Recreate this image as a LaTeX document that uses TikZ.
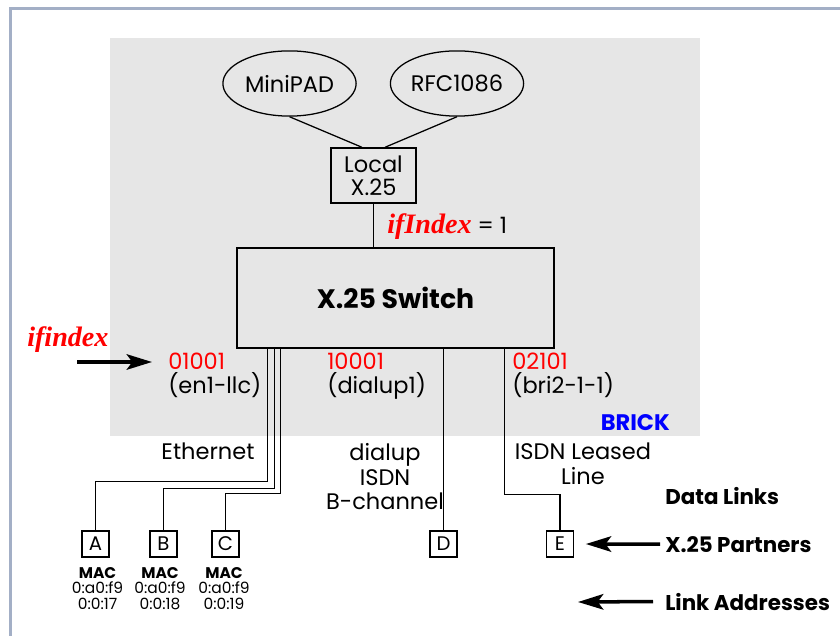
\documentclass[tikz,border=0pt]{standalone}
\usepackage{fontspec}
\setmainfont{Poppins}
\newfontfamily\serifbi{Liberation Serif}
\usetikzlibrary{shapes.geometric, arrows.meta, positioning, calc}
\usepackage{xcolor}
\definecolor{framegray}{RGB}{163, 175, 198}
\definecolor{brickgray}{RGB}{230, 230, 230}
\definecolor{idxred}{RGB}{255, 0, 0}
\definecolor{brickblue}{RGB}{0, 0, 255}

\begin{document}
\begin{tikzpicture}[
    x=0.025cm, y=-0.025cm,
    ellp/.style={ellipse, draw, line width=0.9pt, minimum width=3.33cm, minimum height=1.63cm, inner sep=0pt, font=\fontsize{16}{17}\selectfont},
    boxn/.style={rectangle, draw, line width=0.9pt, minimum width=2.13cm, minimum height=1.38cm, inner sep=0pt, align=center, font=\fontsize{16}{16.5}\selectfont},
    swt/.style={rectangle, draw, line width=1pt, minimum width=7.93cm, minimum height=2.5cm, font=\bfseries\fontsize{19}{20}\selectfont},
    partn/.style={rectangle, draw, line width=0.9pt, minimum width=0.68cm, minimum height=0.65cm, inner sep=0pt, font=\fontsize{14}{15}\selectfont},
    port/.style={anchor=north west, inner sep=0pt, align=left, font=\fontsize{16}{17}\selectfont},
    lnk/.style={anchor=north, inner sep=0pt, align=center, font=\fontsize{16}{17.5}\selectfont},
    mac/.style={anchor=north, inner sep=0pt, align=center, font=\fontsize{11}{11}\selectfont},
    legd/.style={anchor=base west, inner sep=0pt, font=\bfseries\fontsize{15.2}{16}\selectfont},
    idx/.style={inner sep=0pt, text=idxred, font=\serifbi\bfseries\itshape\fontsize{20}{20}\selectfont},
    wire/.style={line width=0.9pt},
    arr/.style={-{Stealth[length=18pt, width=11pt, inset=4pt]}, line width=2.5pt}
]
  \useasboundingbox (0,0) rectangle (840,636);

  % Frame and BRICK area
  \draw[framegray, line width=2.2pt] (10.5,636) -- (10.5,8.5) -- (840,8.5);
  \fill[brickgray] (110,38) rectangle (700,436);

  % Applications
  \node[ellp] (minipad) at (289.5,83.5) {MiniPAD};
  \node[ellp] (rfc) at (457,83.5) {RFC1086};
  \node[boxn] (local) at (373.5,175.5) {Local\\X.25};

  % Switch
  \node[swt] (switch) at (395.5,298) {X.25 Switch};
  \node[anchor=base west, inner sep=0pt, font=\fontsize{16}{17}\selectfont] (ifone) at (387,233)
    {\textcolor{idxred}{\serifbi\bfseries\itshape\fontsize{20}{20}\selectfont ifIndex} = 1};

  % Interfaces
  \node[idx, anchor=base west] (ifleft) at (27,346) {ifindex};
  \node[port] (p1) at (168,353) {\textcolor{idxred}{01001}\\(en1-llc)};
  \node[port] (p2) at (327,353) {\textcolor{idxred}{10001}\\(dialup1)};
  \node[port] (p3) at (512,353) {\textcolor{idxred}{02101}\\(bri2-1-1)};
  \node[anchor=base east, inner sep=0pt, text=brickblue, font=\bfseries\fontsize{16}{17}\selectfont] (brick) at (670,430) {BRICK};

  % Data links
  \node[lnk] (eth) at (208,443) {Ethernet};
  \node[lnk] (dial) at (385,443) {dialup\\ISDN\\B-channel};
  \node[lnk] (leased) at (583,443) {ISDN Leased\\Line};

  % Partners
  \node[partn] (a) at (95.5,544) {A};
  \node[partn] (b) at (163.5,544) {B};
  \node[partn] (c) at (225.5,544) {C};
  \node[partn] (d) at (443.5,544) {D};
  \node[partn] (e) at (560,544) {E};

  \node[mac] (maca) at (97.5,567) {\textbf{MAC}\\0:a0:f9\\0:0:17};
  \node[mac] (macb) at (160,567) {\textbf{MAC}\\0:a0:f9\\0:0:18};
  \node[mac] (macc) at (224,567) {\textbf{MAC}\\0:a0:f9\\0:0:19};

  % Legend
  \node[legd] (datalinks) at (665,504) {Data Links};
  \node[legd] (partners) at (665,552) {X.25 Partners};
  \node[legd] (addr) at (665,610) {Link Addresses};

  % Wires
  \draw[wire] (minipad.south) -- ([xshift=-0.29cm]local.north);
  \draw[wire] (rfc.south) -- ([xshift=0.29cm]local.north);
  \draw[wire] (local.south) -- (local.south |- switch.north);

  \draw[wire] ($(switch.south west)+(31,0)$) -- ++(0,133) -| (a.north);
  \draw[wire] ($(switch.south west)+(38,0)$) -- ++(0,140) -| (b.north);
  \draw[wire] ($(switch.south west)+(44,0)$) -- ++(0,145) -| (c.north);
  \draw[wire] (d.north |- switch.south) -- (d.north);
  \draw[wire] ($(switch.south west)+(268,0)$) -- ++(0,146) -| (e.north);

  % Arrows
  \coordinate (ifarr) at (77,362);
  \coordinate (addrend) at (578,602);
  \draw[arr, shorten >=0.4cm] (ifarr) -- (ifarr -| p1.west);
  \draw[arr] ([xshift=-0.12cm]partners.west) -- ([xshift=0.29cm]e.east);
  \draw[arr] ([xshift=-0.3cm]addr.west) -- (addrend);
\end{tikzpicture}
\end{document}
